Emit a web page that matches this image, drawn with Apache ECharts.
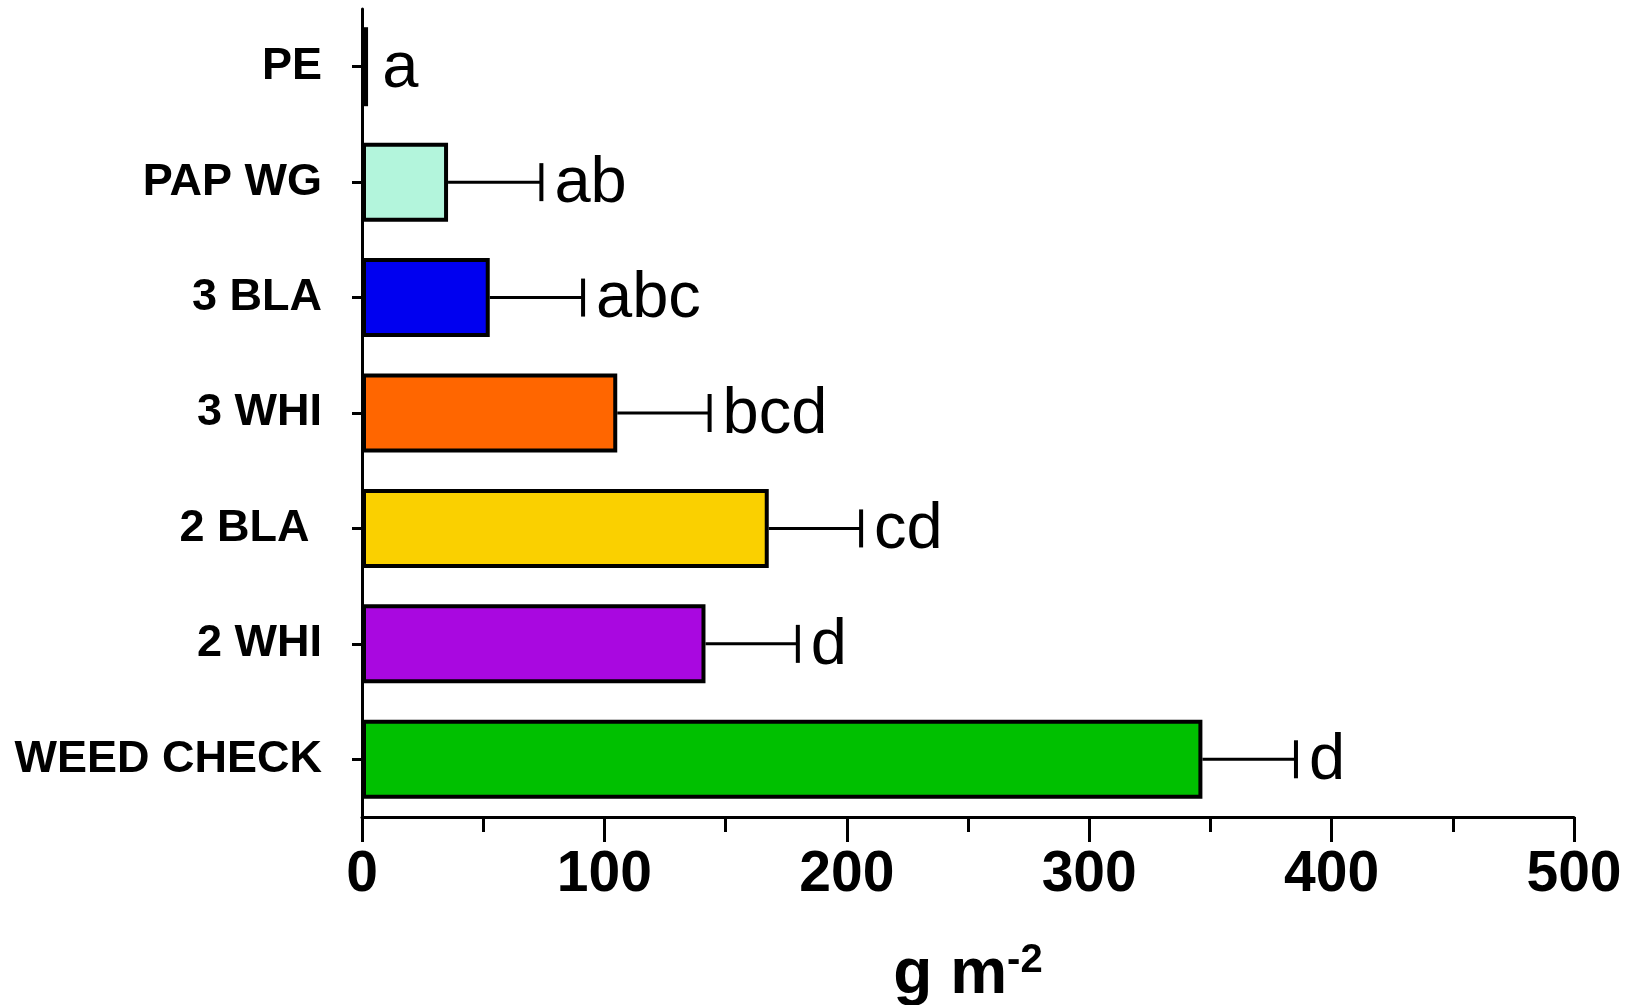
<!DOCTYPE html>
<html>
<head>
<meta charset="utf-8">
<script src="https://cdn.jsdelivr.net/npm/echarts@6/dist/echarts.min.js"></script>
<style>
html,body{margin:0;padding:0;background:#fff;}
#chart{width:1627px;height:1005px;}
</style>
</head>
<body>
<div id="chart"></div>
<script>
var categories = ['PE', 'PAP WG', '3 BLA', '3 WHI', '2 BLA ', '2 WHI', 'WEED CHECK'];
var values = [2.5, 35.5, 52.7, 105.3, 167.8, 141.7, 346.7];
var errors = [0.5, 38.5, 38.5, 38.1, 38.1, 38.1, 38.6];
var letters = ['a', 'ab', 'abc', 'bcd', 'cd', 'd', 'd'];
var colors = ['#000000', '#B3F5DC', '#0000F0', '#FF6600', '#FAD000', '#A908E0', '#00C000'];
var xTicks = [0, 100, 200, 300, 400, 500];

var chart = echarts.init(document.getElementById('chart'), null, {renderer: 'canvas'});

var barData = values.map(function (v, i) {
  return {value: v, itemStyle: {color: colors[i]}};
});
var errData = values.map(function (v, i) {
  return [v, i, errors[i], letters[i]];
});

var option = {
  backgroundColor: '#ffffff',
  animation: false,
  grid: {left: 362, right: 53, top: 9, bottom: 188, containLabel: false, outerBoundsMode: 'none'},
  xAxis: {
    type: 'value',
    min: xTicks[0],
    max: xTicks[xTicks.length - 1],
    interval: 100,
    name: '{t|g m}{s|-2}',
    nameLocation: 'middle',
    nameGap: 124,
    nameTextStyle: {
      rich: {
        t: {fontFamily: 'Liberation Sans, Arial', fontWeight: 'bold', fontSize: 64, color: '#000', verticalAlign: 'bottom', lineHeight: 66},
        s: {fontFamily: 'Liberation Sans, Arial', fontWeight: 'bold', fontSize: 40, color: '#000', verticalAlign: 'top', padding: [0, 0, 28, 0], lineHeight: 66}
      }
    },
    axisLine: {show: true, onZero: false, lineStyle: {color: '#000', width: 3}},
    axisTick: {show: true, inside: false, length: 25, lineStyle: {color: '#000', width: 3}},
    minorTick: {show: true, splitNumber: 2, length: 15, lineStyle: {color: '#000', width: 3}},
    splitLine: {show: false},
    axisLabel: {
      margin: 30,
      fontFamily: 'Liberation Sans, Arial',
      fontWeight: 'bold',
      fontSize: 57,
      color: '#000',
      formatter: function (v) { return xTicks.indexOf(v) >= 0 ? String(v) : ''; }
    }
  },
  yAxis: {
    type: 'category',
    data: categories,
    inverse: true,
    axisLine: {show: true, lineStyle: {color: '#000', width: 3}},
    axisTick: {show: true, alignWithLabel: true, inside: false, length: 10, lineStyle: {color: '#000', width: 3}},
    axisLabel: {
      margin: 40,
      fontFamily: 'Liberation Sans, Arial',
      fontWeight: 'bold',
      fontSize: 45,
      color: '#000'
    },
    splitLine: {show: false}
  },
  series: [
    {
      type: 'bar',
      data: barData,
      barWidth: 79,
      itemStyle: {borderColor: '#000', borderWidth: 4},
      z: 2
    },
    {
      type: 'custom',
      data: errData,
      z: 3,
      renderItem: function (params, api) {
        var v = api.value(0);
        var idx = api.value(1);
        var e = api.value(2);
        var letter = letters[params.dataIndex];
        var p0 = api.coord([v, idx]);
        var p1 = api.coord([v + e, idx]);
        var cap = 19;
        var children = [];
        if (e > 1) {
          children.push({
            type: 'line',
            shape: {x1: p0[0], y1: p0[1], x2: p1[0], y2: p1[1]},
            style: {stroke: '#000', lineWidth: 3}
          });
          children.push({
            type: 'line',
            shape: {x1: p1[0], y1: p1[1] - cap, x2: p1[0], y2: p1[1] + cap},
            style: {stroke: '#000', lineWidth: 4}
          });
        }
        children.push({
          type: 'text',
          x: p1[0] + 13,
          y: p1[1] + 2,
          style: {
            text: letter,
            fontFamily: 'Liberation Sans, Arial',
            fontSize: 65,
            fill: '#000',
            textAlign: 'left',
            textVerticalAlign: 'middle'
          }
        });
        return {type: 'group', children: children};
      }
    }
  ]
};
chart.setOption(option);
</script>
</body>
</html>
